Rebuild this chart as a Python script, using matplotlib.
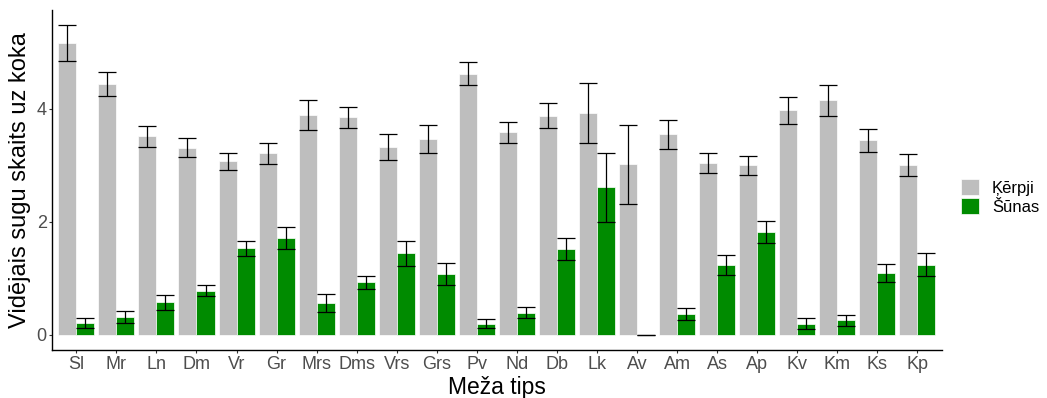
import numpy as np
import matplotlib.pyplot as plt
from matplotlib.patches import Patch

plt.rcParams['font.family'] = ['Liberation Sans', 'DejaVu Sans']

# Forest types and mean species counts per tree (with standard errors)
tipi = ['Sl', 'Mr', 'Ln', 'Dm', 'Vr', 'Gr', 'Mrs', 'Dms', 'Vrs', 'Grs', 'Pv',
        'Nd', 'Db', 'Lk', 'Av', 'Am', 'As', 'Ap', 'Kv', 'Km', 'Ks', 'Kp']
kerpji = [5.16, 4.44, 3.51, 3.31, 3.07, 3.21, 3.89, 3.85, 3.33, 3.47, 4.62,
          3.58, 3.88, 3.92, 3.02, 3.55, 3.04, 3.00, 3.97, 4.15, 3.44, 3.00]
kerpji_se = [0.32, 0.21, 0.18, 0.165, 0.15, 0.18, 0.26, 0.19, 0.23, 0.25, 0.205,
             0.18, 0.225, 0.53, 0.70, 0.255, 0.18, 0.17, 0.245, 0.27, 0.21, 0.195]
sunas = [0.20, 0.31, 0.57, 0.78, 1.53, 1.71, 0.56, 0.93, 1.44, 1.07, 0.19,
         0.39, 1.52, 2.61, 0.0, 0.37, 1.23, 1.82, 0.19, 0.25, 1.09, 1.24]
sunas_se = [0.09, 0.105, 0.13, 0.105, 0.13, 0.19, 0.155, 0.115, 0.225, 0.19, 0.08,
            0.10, 0.195, 0.61, 0.0, 0.105, 0.175, 0.20, 0.10, 0.09, 0.165, 0.21]

x = np.arange(len(tipi))
w = 0.45
pel = '#BEBEBE'
zals = '#008B00'

fig = plt.figure(figsize=(10.47, 3.98), dpi=100)
ax = fig.add_axes([52.3 / 1047, 48 / 398, (941.5 - 52.3) / 1047, 340 / 398])

ax.bar(x - w / 2, kerpji, width=w, color=pel, edgecolor='white', linewidth=0.5)
ax.bar(x + w / 2, sunas, width=w, color=zals, edgecolor='white', linewidth=0.5)
ax.errorbar(x - w / 2, kerpji, yerr=kerpji_se, fmt='none', ecolor='black',
            elinewidth=0.9, capsize=6.4, capthick=0.9)
ax.errorbar(x + w / 2, sunas, yerr=sunas_se, fmt='none', ecolor='black',
            elinewidth=0.9, capsize=6.4, capthick=0.9)

ax.set_xlim(-0.6, len(tipi) - 0.4)
ax.set_ylim(-0.274, 5.75)
ax.set_xticks(x)
ax.set_xticklabels(tipi)
ax.set_yticks([0, 2, 4])
ax.tick_params(axis='both', labelsize=13, labelcolor='#4D4D4D', color='#333333',
               length=2.2, width=0.8, pad=1.8)

for s in ['top', 'right']:
    ax.spines[s].set_visible(False)
for s in ['left', 'bottom']:
    ax.spines[s].set_linewidth(1.0)
    ax.spines[s].set_color('black')

ax.set_xlabel('Meža tips', fontsize=16.5)
ax.set_ylabel('Vidējais sugu skaits uz koka', fontsize=17)
ax.xaxis.set_label_coords(0.5, -0.076)
ax.yaxis.set_label_coords(-0.024, 0.5)

roki = [Patch(facecolor=pel, edgecolor='white', linewidth=0.5),
        Patch(facecolor=zals, edgecolor='white', linewidth=0.5)]
fig.legend(roki, ['Ķērpji', 'Šūnas'], loc='center left',
           bbox_to_anchor=(961 / 1047, 201 / 398), frameon=False, fontsize=12,
           handlelength=1.1, handleheight=1.1, labelspacing=0.12,
           handletextpad=0.75, borderpad=0, borderaxespad=0)

fig.savefig('out.png', dpi=100)
